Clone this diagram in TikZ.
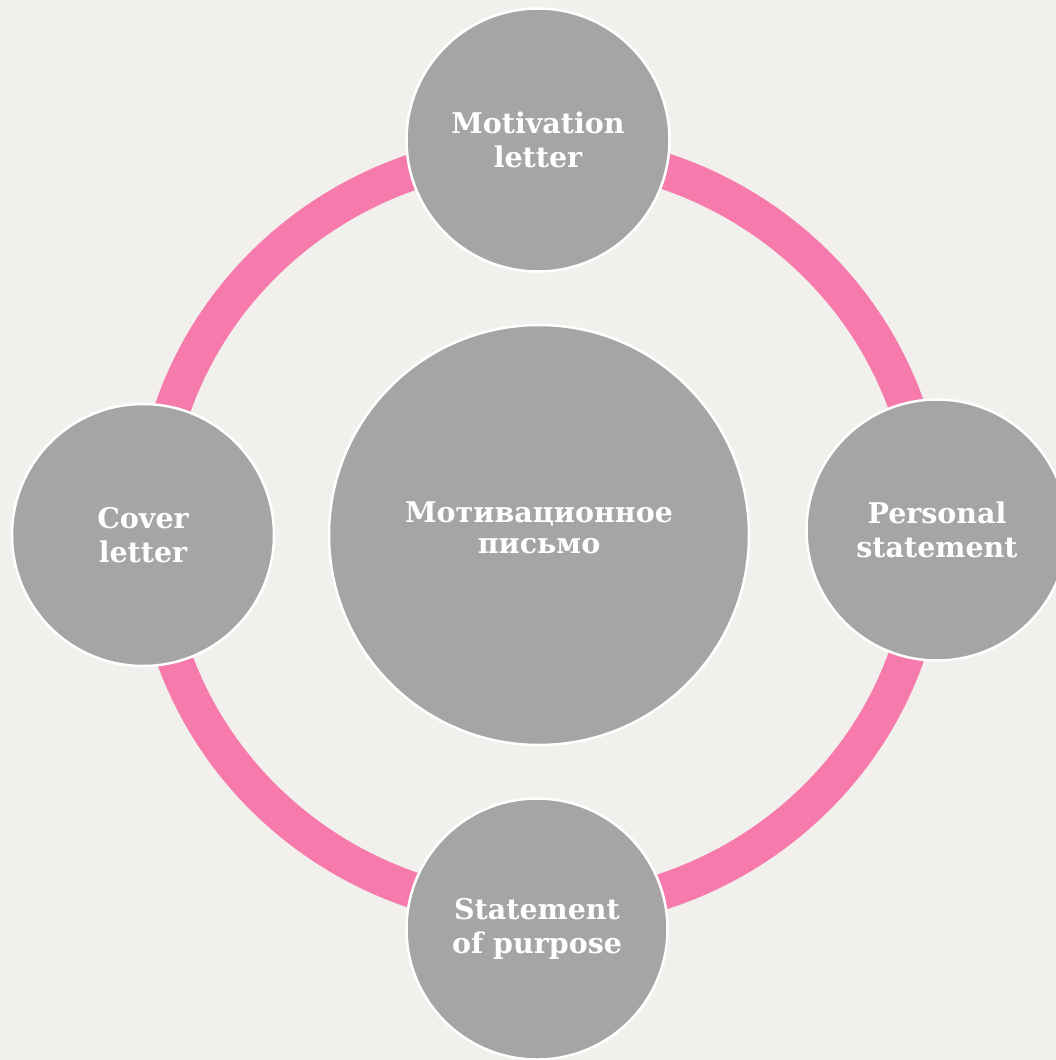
\documentclass[tikz,border=0pt]{standalone}
\usepackage{fontspec}
\setmainfont{DejaVu Serif}
\definecolor{bg}{HTML}{F1F0EC}
\definecolor{ringpink}{HTML}{F67AAB}
\definecolor{disc}{HTML}{A5A5A5}
\tikzset{
  ring/.style={draw=ringpink, line width=36pt},
  bubble/.style={circle, fill=disc, draw=white, line width=2.5pt, text=white,
    align=center, inner sep=0pt, font=\bfseries\fontsize{28.5}{34}\selectfont},
  bigtext/.style={text=white, align=center, inner sep=0pt,
    font=\bfseries\fontsize{28.5}{31}\selectfont},
}
\begin{document}
\begin{tikzpicture}[x=1pt,y=-1pt]
\fill[bg] (0,0) rectangle (1056,1060);
\useasboundingbox (0,0) rectangle (1056,1060);
\coordinate (rc) at (540,531);
\draw[ring] (rc) ellipse[x radius=388, y radius=380];
\node[bubble, minimum size=420pt] (center) at (539,535) {};
\node[bigtext] (centertext) at (539,528) {Мотивационное\\письмо};
\node[bubble, minimum size=263pt] (top) at (538,140) {Motivation\\letter};
\node[bubble, minimum size=261pt] (right) at (937,530) {Personal\\statement};
\node[bubble, minimum size=261pt] (bottom) at (537,929) {Statement\\of purpose};
\node[bubble, minimum size=262pt] (left) at (143,535) {Cover\\letter};
\end{tikzpicture}
\end{document}
